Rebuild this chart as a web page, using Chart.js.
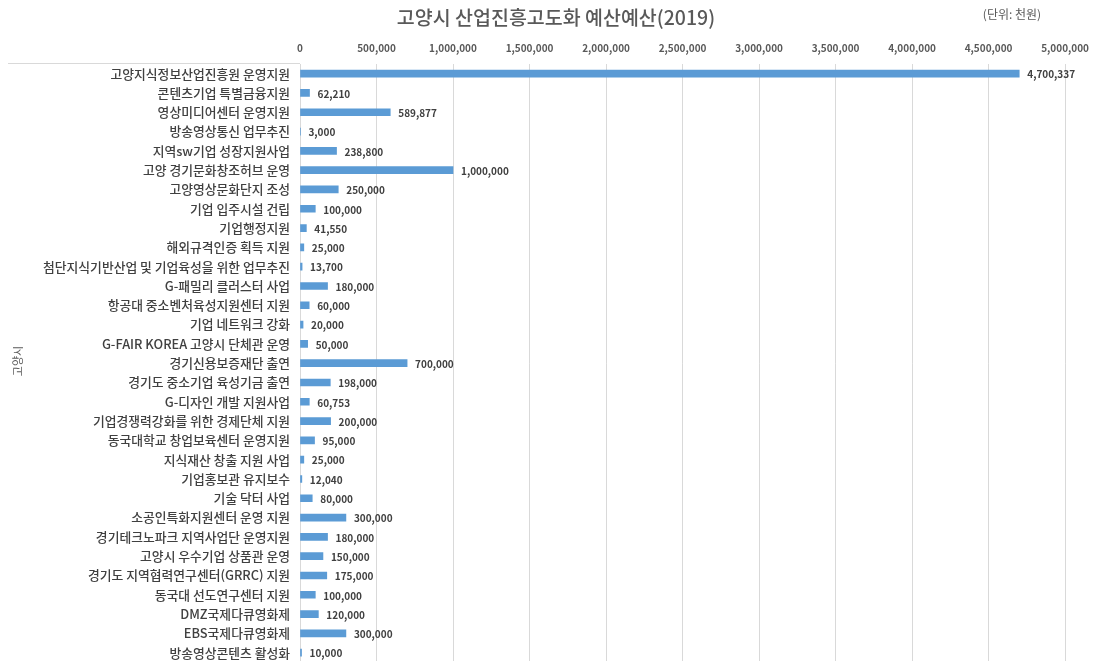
<!DOCTYPE html>
<html>
<head>
<meta charset="utf-8">
<script src="https://cdn.jsdelivr.net/npm/chart.js@4.4.1/dist/chart.umd.min.js"></script>
<style>
  html, body { margin: 0; padding: 0; background: #fff; overflow: hidden; }
  #wrap { width: 1099px; height: 680px; }
</style>
</head>
<body>
<div id="wrap"><canvas id="myChart"></canvas></div>
<script>
const categories = [
  '고양지식정보산업진흥원 운영지원', '콘텐츠기업 특별금융지원', '영상미디어센터 운영지원', '방송영상통신 업무추진',
  '지역sw기업 성장지원사업', '고양 경기문화창조허브 운영', '고양영상문화단지 조성', '기업 입주시설 건립',
  '기업행정지원', '해외규격인증 획득 지원', '첨단지식기반산업 및 기업육성을 위한 업무추진', 'G-패밀리 클러스터 사업',
  '항공대 중소벤처육성지원센터 지원', '기업 네트워크 강화', 'G-FAIR KOREA 고양시 단체관 운영', '경기신용보증재단 출연',
  '경기도 중소기업 육성기금 출연', 'G-디자인 개발 지원사업', '기업경쟁력강화를 위한 경제단체 지원', '동국대학교 창업보육센터 운영지원',
  '지식재산 창출 지원 사업', '기업홍보관 유지보수', '기술 닥터 사업', '소공인특화지원센터 운영 지원',
  '경기테크노파크 지역사업단 운영지원', '고양시 우수기업 상품관 운영', '경기도 지역협력연구센터(GRRC) 지원', '동국대 선도연구센터 지원',
  'DMZ국제다큐영화제', 'EBS국제다큐영화제', '방송영상콘텐츠 활성화'
];
const budget = [
  4700337, 62210, 589877, 3000, 238800, 1000000, 250000, 100000,
  41550, 25000, 13700, 180000, 60000, 20000, 50000, 700000,
  198000, 60753, 200000, 95000, 25000, 12040, 80000, 300000,
  180000, 150000, 175000, 100000, 120000, 300000, 10000
];
const groupLabel = '고양시';
const chartTitle = '고양시 산업진흥고도화 예산예산(2019)';
const unitNote = '(단위: 천원)';

const FONT = '"Noto Sans CJK KR", "Noto Sans", sans-serif';

// titles, unit note, group bracket and value labels
const decor = {
  id: 'decor',
  afterDatasetsDraw(chart) {
    const ctx = chart.ctx;
    const area = chart.chartArea;
    ctx.save();
    ctx.fillStyle = '#595959';
    ctx.textBaseline = 'middle';
    ctx.textAlign = 'center';
    ctx.font = '500 19.5px ' + FONT;
    ctx.fillText(chartTitle, 556, 18);
    ctx.font = '12px ' + FONT;
    ctx.fillText(unitNote, 1012, 14);

    // group bracket line
    ctx.strokeStyle = '#d9d9d9';
    ctx.lineWidth = 1;
    ctx.beginPath();
    ctx.moveTo(8, area.top - 0.5);
    ctx.lineTo(area.left, area.top - 0.5);
    ctx.stroke();

    ctx.translate(18, 361);
    ctx.rotate(-Math.PI / 2);
    ctx.font = '11px ' + FONT;
    ctx.fillText(groupLabel, 0, 0);
    ctx.restore();

    // value labels
    ctx.save();
    ctx.fillStyle = '#404040';
    ctx.font = 'bold 10px ' + FONT;
    ctx.textAlign = 'left';
    ctx.textBaseline = 'middle';
    const meta = chart.getDatasetMeta(0);
    meta.data.forEach((bar, i) => {
      ctx.fillText(budget[i].toLocaleString('en-US'), bar.x + 8, bar.y + 1);
    });
    ctx.restore();
  }
};

const ctx = document.getElementById('myChart').getContext('2d');
const myChart = new Chart(ctx, {
  type: 'bar',
  data: {
    labels: categories,
    datasets: [{
      data: budget,
      backgroundColor: '#5b9bd5',
      barThickness: 7
    }]
  },
  options: {
    indexAxis: 'y',
    responsive: true,
    maintainAspectRatio: false,
    animation: false,
    layout: { padding: { top: 0, left: 0, right: 32, bottom: 0 } },
    plugins: {
      legend: { display: false },
      tooltip: { enabled: false }
    },
    scales: {
      x: {
        position: 'top',
        min: 0,
        max: 5000000,
        afterFit: (scale) => { scale.height = 64; },
        grid: { color: '#d9d9d9', drawTicks: false },
        border: { display: false },
        ticks: {
          stepSize: 500000,
          padding: 10,
          color: '#595959',
          font: { size: 10, weight: 'bold', family: FONT },
          callback: (v) => v.toLocaleString('en-US')
        }
      },
      y: {
        afterFit: (scale) => { scale.width = 300; },
        grid: { display: false, drawTicks: false },
        border: { display: true, color: '#d9d9d9' },
        ticks: {
          autoSkip: false,
          padding: 10,
          color: '#404040',
          font: { size: 12.8, weight: '500', family: FONT }
        }
      }
    }
  },
  plugins: [decor]
});
</script>
</body>
</html>
